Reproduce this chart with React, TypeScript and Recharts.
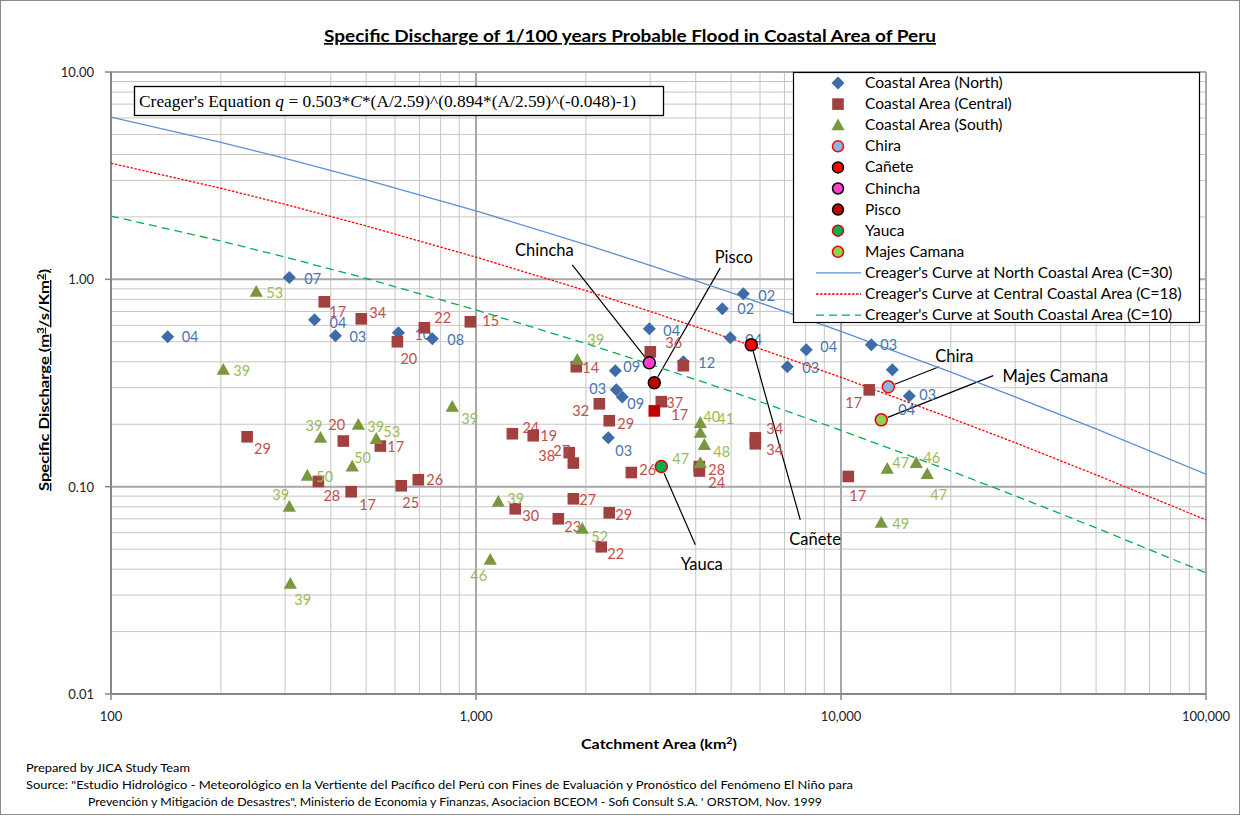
import React from "react";
import {
  ScatterChart,
  Scatter,
  XAxis,
  YAxis,
  CartesianGrid,
  ReferenceLine,
  ReferenceDot,
  Cell,
} from "recharts";

const FONT = "Lato, 'Open Sans', sans-serif";

// axis ticks
const xTicks = [
  100, 200, 300, 400, 500, 600, 700, 800, 900, 1000, 2000, 3000, 4000, 5000, 6000, 7000, 8000, 9000,
  10000, 20000, 30000, 40000, 50000, 60000, 70000, 80000, 90000, 100000,
];
const yTicks = [
  0.01, 0.02, 0.03, 0.04, 0.05, 0.06, 0.07, 0.08, 0.09, 0.1, 0.2, 0.3, 0.4, 0.5, 0.6, 0.7, 0.8, 0.9,
  1, 2, 3, 4, 5, 6, 7, 8, 9, 10,
];
const xMajor = [100, 1000, 10000, 100000];
const xMajorLabels = ["100", "1,000", "10,000", "100,000"];
const yMajor = [0.01, 0.1, 1, 10];
const yMajorLabels = ["0.01", "0.10", "1.00", "10.00"];

// Coastal Area (North)
const northArea = [143, 308, 361, 412, 613, 759, 2984, 2408, 3698, 2423, 2517, 2304, 5400, 4730, 4973, 8033, 7128, 12110, 13820, 15390, 12890];
const northQ = [0.528, 1.02, 0.638, 0.534, 0.552, 0.517, 0.577, 0.362, 0.4, 0.293, 0.271, 0.172, 0.851, 0.721, 0.522, 0.457, 0.379, 0.483, 0.366, 0.274, 0.21];
const northLabels = ["04", "07", "04", "03", "10", "08", "04", "09", "12", "03", "09", "03", "02", "02", "04", "04", "03", "03", "", "03", "04"];
const northNudge = [[14, 5], [15, 6], [15, 8], [14, 6], [16, 7], [15, 6], [14, 7], [8, 1], [15, 6], [-27, 4], [5, 12], [7, 18], [15, 7], [15, 5], [15, 7], [14, 2], [15, 6], [9, 5], [0, 0], [10, 4], [17, -5]];

// Coastal Area (Central)
const centralArea = [384, 485, 722, 609, 965, 236, 433, 547, 370, 455, 624, 695, 3003, 3698, 1883, 2177, 2318, 3219, 3080, 1258, 1435, 1801, 1848, 2664, 4091, 4091, 1848, 1281, 2318, 1681, 2204, 5825, 5825, 11950, 10470];
const centralQ = [0.779, 0.645, 0.584, 0.5, 0.624, 0.174, 0.166, 0.157, 0.106, 0.0945, 0.101, 0.108, 0.447, 0.383, 0.379, 0.251, 0.208, 0.257, 0.232, 0.18, 0.176, 0.146, 0.13, 0.117, 0.125, 0.119, 0.0874, 0.0782, 0.0748, 0.07, 0.0513, 0.172, 0.161, 0.293, 0.112];
const centralLabels = ["17", "34", "22", "20", "15", "29", "20", "17", "28", "17", "25", "26", "36", "", "14", "32", "29", "37", "17", "24", "19", "27", "38", "26", "28", "24", "27", "30", "29", "23", "22", "34", "34", "17", "17"];
const centralNudge = [[5, 15], [8, -1], [10, -5], [3, 22], [12, 4], [7, 17], [-15, -11], [7, 6], [5, 20], [8, 18], [1, 22], [8, 5], [15, -4], [0, 0], [6, 6], [-27, 12], [8, 8], [5, 6], [17, 9], [10, -1], [7, 5], [-16, 3], [-35, -2], [8, 2], [9, 8], [9, 17], [6, 6], [7, 12], [6, 7], [6, 13], [6, 12], [11, -4], [11, 11], [-24, 18], [1, 25]];

// Coastal Area (South)
const southArea = [250, 203, 861, 375, 476, 533, 458, 345, 308, 310, 1094, 1151, 1895, 1955, 4117, 4117, 4222, 4117, 13390, 16080, 17230, 12890];
const southQ = [0.87, 0.366, 0.243, 0.172, 0.199, 0.17, 0.125, 0.113, 0.08, 0.034, 0.0444, 0.0846, 0.409, 0.0627, 0.203, 0.182, 0.159, 0.13, 0.122, 0.13, 0.115, 0.067];
const southLabels = ["53", "39", "39", "39", "39", "53", "50", "50", "39", "39", "46", "39", "39", "52", "40", "41", "48", "47", "47", "46", "47", "49"];
const southNudge = [[10, 6], [10, 6], [9, 17], [-15, -7], [9, 7], [7, -2], [2, -4], [9, 6], [-17, -7], [4, 21], [-20, 21], [9, 2], [10, -15], [9, 13], [3, -1], [17, -9], [9, 12], [-28, 1], [5, -1], [7, 0], [3, 26], [11, 6]];

// highlighted rivers
const riverNames = ["Chira", "Cañete", "Chincha", "Pisco", "Yauca", "Majes Camana"];
const riverArea = [13480, 5678, 2984, 3080, 3219, 12890];
const riverQ = [0.303, 0.483, 0.396, 0.317, 0.125, 0.21];
const riverFill: Record<string, string> = { Chira: "#8DB4E2", "Cañete": "#FF0000", Chincha: "#FF3FCF", Pisco: "#C00000", Yauca: "#00B050", "Majes Camana": "#92D050" };
const riverStroke: Record<string, string> = { Chira: "#FF0000", "Cañete": "#000", Chincha: "#000", Pisco: "#000", Yauca: "#E00000", "Majes Camana": "#E00000" };

// callouts (text centre, line start, line end near the river marker)
const calloutNames = ["Chincha", "Pisco", "Cañete", "Yauca", "Chira", "Majes Camana"];
const calloutTextArea = [1539, 5085, 8490, 4155, 20440, 38650];
const calloutTextQ = [1.388, 1.284, 0.0559, 0.0425, 0.428, 0.343];
const calloutFromArea = [1835, 4670, 7735, 3989, 18570, 26140];
const calloutFromQ = [1.175, 1.136, 0.0692, 0.0525, 0.379, 0.343];
const calloutToArea = [2904, 3149, 5747, 3276, 14040, 13430];
const calloutToQ = [0.421, 0.339, 0.449, 0.1162, 0.312, 0.216];

// Creager's curves
const curveArea = [100, 200, 300, 500, 1000, 2000, 3000, 5000, 10000, 20000, 30000, 50000, 100000];
const northCurveQ = [6.06, 4.58, 3.83, 3.02, 2.14, 1.47, 1.167, 0.863, 0.561, 0.357, 0.271, 0.19, 0.115];
const centralCurveQ = [3.63, 2.75, 2.3, 1.81, 1.28, 0.882, 0.7, 0.518, 0.337, 0.214, 0.163, 0.114, 0.0692];
const southCurveQ = [2.02, 1.53, 1.28, 1.01, 0.712, 0.49, 0.389, 0.288, 0.187, 0.119, 0.0904, 0.0633, 0.0384];

const legendNames = [
  "Coastal Area (North)",
  "Coastal Area (Central)",
  "Coastal Area (South)",
  "Chira",
  "Cañete",
  "Chincha",
  "Pisco",
  "Yauca",
  "Majes Camana",
  "Creager's Curve at North Coastal Area (C=30)",
  "Creager's Curve at Central Coastal Area (C=18)",
  "Creager's Curve at South Coastal Area (C=10)",
];

const NORTH = "#3D6CA8";
const CENTRAL = "#A0413F";
const SOUTH = "#7A973E";
const NORTH_TXT = "#4A74B0";
const CENTRAL_TXT = "#C0504D";
const SOUTH_TXT = "#9BBB59";

const build = (area: number[], q: number[], labels: string[], nudge: number[][]) =>
  area.map((a, i) => ({ area: a, q: q[i], label: labels[i], nudge: nudge[i] }));

const northData = build(northArea, northQ, northLabels, northNudge);
const centralData = build(centralArea, centralQ, centralLabels, centralNudge);
const southData = build(southArea, southQ, southLabels, southNudge);
const riverData = riverNames.map((n, i) => ({ name: n, area: riverArea[i], q: riverQ[i] }));
const curve = (q: number[]) => curveArea.map((a, i) => ({ area: a, q: q[i] }));

function marker(kind: string, cx: number, cy: number, fill: string) {
  if (kind === "diamond")
    return <path d={`M${cx},${cy - 6.5}L${cx + 6.5},${cy}L${cx},${cy + 6.5}L${cx - 6.5},${cy}Z`} fill={fill} />;
  if (kind === "square") return <rect x={cx - 5.8} y={cy - 5.8} width={11.6} height={11.6} fill={fill} />;
  return <path d={`M${cx},${cy - 6.8}L${cx + 6.6},${cy + 5}L${cx - 6.6},${cy + 5}Z`} fill={fill} />;
}

const pointShape = (kind: string, color: string, textColor: string) => (props: any) => {
  const { cx, cy, payload } = props;
  const fill = props.fill && props.fill !== "none" ? props.fill : color;
  const [dx, dy] = payload.nudge || [14, 5];
  return (
    <g>
      {marker(kind, cx, cy, fill)}
      {payload.label ? (
        <text x={cx + dx} y={cy + dy} fontSize={14.5} fontFamily={FONT} fill={textColor}>
          {payload.label}
        </text>
      ) : null}
    </g>
  );
};

const riverShape = (props: any) => {
  const { cx, cy, payload } = props;
  return <circle cx={cx} cy={cy} r={6} fill={riverFill[payload.name]} stroke={riverStroke[payload.name]} strokeWidth={1.5} />;
};

function XTick(props: any) {
  const { x, y, payload } = props;
  const i = xMajor.indexOf(payload.value);
  if (i < 0) return <g />;
  return (
    <g>
      <line x1={x} x2={x} y1={y} y2={y + 6} stroke="#868686" strokeWidth={1.5} />
      <text x={x} y={y + 27} textAnchor="middle" fontSize={13} fontFamily={FONT} fill="#222">
        {xMajorLabels[i]}
      </text>
    </g>
  );
}

function YTick(props: any) {
  const { x, y, payload } = props;
  const i = yMajor.indexOf(payload.value);
  if (i < 0) return <g />;
  return (
    <g>
      <line x1={x - 6} x2={x} y1={y} y2={y} stroke="#868686" strokeWidth={1.5} />
      <text x={x - 17} y={y + 5} textAnchor="end" fontSize={13} fontFamily={FONT} fill="#222">
        {yMajorLabels[i]}
      </text>
    </g>
  );
}

function LegendIcon({ i, y }: { i: number; y: number }) {
  const cx = 838;
  if (i === 0) return marker("diamond", cx, y, NORTH);
  if (i === 1) return marker("square", cx, y, CENTRAL);
  if (i === 2) return marker("triangle", cx, y, SOUTH);
  if (i < 9) {
    const n = riverNames[i - 3];
    return <circle cx={cx} cy={y} r={5.5} fill={riverFill[n]} stroke={riverStroke[n]} strokeWidth={1.5} />;
  }
  const styles = [
    { stroke: "#5B8FD6", dash: undefined },
    { stroke: "#FF0000", dash: "2.5 1.5" },
    { stroke: "#00B050", dash: "8 5" },
  ][i - 9];
  return <line x1={816} x2={861} y1={y} y2={y} stroke={styles.stroke} strokeWidth={1.3} strokeDasharray={styles.dash} />;
}

export default function App() {
  return (
    <div style={{ position: "absolute", left: 0, top: 0, width: 1241, height: 816, background: "#fff", fontFamily: FONT }}>
      <ScatterChart width={1241} height={816} margin={{ top: 72, right: 35, bottom: 92, left: 51 }}>
        <CartesianGrid stroke="#C6C6C6" strokeWidth={1} />
        <XAxis
          type="number"
          dataKey="area"
          scale="log"
          domain={[100, 100000]}
          ticks={xTicks}
          interval={0}
          allowDataOverflow
          height={30}
          tickSize={0}
          tickMargin={0}
          tickLine={false}
          tick={<XTick />}
          axisLine={{ stroke: "#868686", strokeWidth: 2 }}
        />
        <YAxis
          type="number"
          dataKey="q"
          scale="log"
          domain={[0.01, 10]}
          ticks={yTicks}
          interval={0}
          allowDataOverflow
          width={60}
          tickSize={0}
          tickMargin={0}
          tickLine={false}
          tick={<YTick />}
          axisLine={{ stroke: "#868686", strokeWidth: 2 }}
        />
        {xMajor.slice(1).map((v) => (
          <ReferenceLine key={`x${v}`} x={v} stroke="#A8A8A8" strokeWidth={2} />
        ))}
        {yMajor.slice(1).map((v) => (
          <ReferenceLine key={`y${v}`} y={v} stroke="#A8A8A8" strokeWidth={2} />
        ))}
        <Scatter data={curve(northCurveQ)} line={{ stroke: "#5B8FD6", strokeWidth: 1.3 }} shape={() => <g />} isAnimationActive={false} />
        <Scatter data={curve(centralCurveQ)} line={{ stroke: "#FF0000", strokeWidth: 1.3, strokeDasharray: "2.5 1.5" }} shape={() => <g />} isAnimationActive={false} />
        <Scatter data={curve(southCurveQ)} line={{ stroke: "#00B050", strokeWidth: 1.3, strokeDasharray: "8 5" }} shape={() => <g />} isAnimationActive={false} />
        <Scatter data={northData} fill={NORTH} shape={pointShape("diamond", NORTH, NORTH_TXT)} isAnimationActive={false} />
        <Scatter data={centralData} fill={CENTRAL} shape={pointShape("square", CENTRAL, CENTRAL_TXT)} isAnimationActive={false}>
          {centralData.map((_, i) => (
            <Cell key={i} fill={i === 18 ? "#C00000" : CENTRAL} />
          ))}
        </Scatter>
        <Scatter data={southData} fill={SOUTH} shape={pointShape("triangle", SOUTH, SOUTH_TXT)} isAnimationActive={false} />
        {calloutNames.map((n, i) => (
          <ReferenceLine
            key={`cl${n}`}
            segment={[
              { x: calloutFromArea[i], y: calloutFromQ[i] },
              { x: calloutToArea[i], y: calloutToQ[i] },
            ]}
            stroke="#000"
            strokeWidth={1.2}
          />
        ))}
        {calloutNames.map((n, i) => (
          <ReferenceDot
            key={`ct${n}`}
            x={calloutTextArea[i]}
            y={calloutTextQ[i]}
            r={0}
            shape={(p: any) => (
              <text x={p.cx} y={p.cy + 6} textAnchor="middle" fontSize={16.5} fontFamily={FONT} fill="#000">
                {n}
              </text>
            )}
          />
        ))}
        <Scatter data={riverData} shape={riverShape} isAnimationActive={false} />
      </ScatterChart>

      <svg width={1241} height={816} style={{ position: "absolute", left: 0, top: 0, pointerEvents: "none" }}>
        <rect x={0.5} y={0.5} width={1239} height={814} fill="none" stroke="#8A8A8A" />
        <text x={630} y={42} textAnchor="middle" fontSize={17} fontWeight="bold" textDecoration="underline" fontFamily={FONT} textLength={612} lengthAdjust="spacingAndGlyphs">
          Specific Discharge of 1/100 years Probable Flood in Coastal Area of Peru
        </text>

        <rect x={134.5} y={86.5} width={529} height={29} fill="#fff" stroke="#000" strokeWidth={1.3} />
        <text x={139} y={107} fontSize={17} fontFamily="'Liberation Serif', 'DejaVu Serif', serif" textLength={497} lengthAdjust="spacingAndGlyphs">
          Creager's Equation <tspan fontStyle="italic">q</tspan> = 0.503*<tspan fontStyle="italic">C</tspan>*(A/2.59)^(0.894*(A/2.59)^(-0.048)-1)
        </text>

        <text transform="translate(49,380) rotate(-90)" textAnchor="middle" fontSize={13.5} fontWeight="bold" textDecoration="underline" fontFamily={FONT} textLength={222} lengthAdjust="spacingAndGlyphs">
          Specific Discharge (m<tspan baselineShift="super" fontSize={9}>3</tspan>/s/Km<tspan baselineShift="super" fontSize={9}>2</tspan>)
        </text>
        <text x={659} y={749} textAnchor="middle" fontSize={13.5} fontWeight="bold" fontFamily={FONT} textLength={156} lengthAdjust="spacingAndGlyphs">
          Catchment Area (km<tspan baselineShift="super" fontSize={9}>2</tspan>)
        </text>

        <text x={26} y={772} fontSize={12} fontFamily={FONT} textLength={164} lengthAdjust="spacingAndGlyphs">
          Prepared by JICA Study Team
        </text>
        <text x={26} y={789} fontSize={12} fontFamily={FONT} textLength={827} lengthAdjust="spacingAndGlyphs">
          Source: "Estudio Hidrológico - Meteorológico en la Vertiente del Pacífico del Perú con Fines de Evaluación y Pronóstico del Fenómeno El Niño para
        </text>
        <text x={88} y={806} fontSize={12} fontFamily={FONT} textLength={734} lengthAdjust="spacingAndGlyphs">
          Prevención y Mitigación de Desastres", Ministerio de Economia y Finanzas, Asociacion BCEOM - Sofi Consult S.A. ' ORSTOM, Nov. 1999
        </text>

        <rect x={793.5} y={72.5} width={406} height={250} fill="#fff" stroke="#000" strokeWidth={1.2} />
        {legendNames.map((n, i) => {
          const y = 83 + i * 21.1;
          return (
            <g key={n}>
              <LegendIcon i={i} y={y} />
              <text x={865} y={y + 5} fontSize={15.5} fontFamily={FONT} fill="#000">
                {n}
              </text>
            </g>
          );
        })}
      </svg>
    </div>
  );
}
